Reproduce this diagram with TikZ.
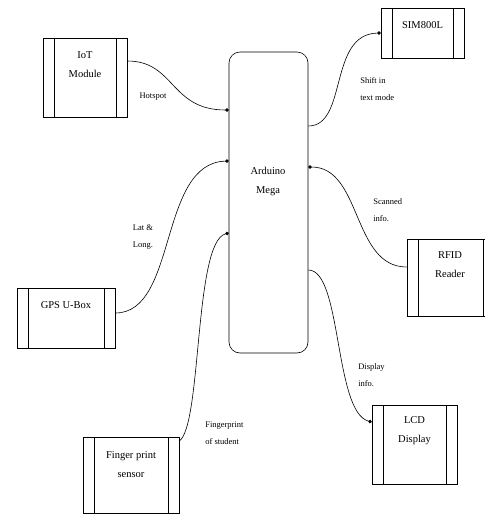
\documentclass[tikz,border=0pt]{standalone}
\usepackage{fontspec}
\setmainfont{Liberation Serif}
\usetikzlibrary{arrows.meta}
\begin{document}
\begin{tikzpicture}[x=1pt,y=-1pt,
  line width=0.6pt,
  subbox/.style={draw, rectangle, inner sep=0pt,
    path picture={
      \draw ([xshift=11pt]path picture bounding box.north west) -- ([xshift=11pt]path picture bounding box.south west);
      \draw ([xshift=-11pt]path picture bounding box.north east) -- ([xshift=-11pt]path picture bounding box.south east);
    }},
  boxtext/.style={align=center, font=\fontsize{10.5}{19}\selectfont, inner sep=0pt},
  lbl/.style={align=left, font=\fontsize{8.5}{16.5}\selectfont, inner sep=0pt},
  conn/.style={-{Circle[length=3.5pt]}}
]
\useasboundingbox (0,0) rectangle (485,515);
\clip (0,0) rectangle (485,515);

% main controller
\node[draw, rectangle, rounded corners=11pt, minimum width=79pt, minimum height=301pt, inner sep=0pt] (ard) at (268.5,202.5) {};
\node[boxtext] (ardT) at (268,181) {Arduino\\Mega};

% peripheral boxes
\node[subbox, minimum width=84pt, minimum height=79pt] (iot) at (85,77.5) {};
\node[boxtext] (iotT) at (85,65) {IoT\\Module};

\node[subbox, minimum width=83pt, minimum height=50pt] (sim) at (422.5,33) {};
\node[boxtext] (simT) at (422.5,25) {SIM800L};

\node[subbox, minimum width=98pt, minimum height=60pt] (gps) at (66,318) {};
\node[boxtext] (gpsT) at (66,305) {GPS U-Box};

\node[subbox, minimum width=87pt, minimum height=77pt] (rfid) at (450.5,277.5) {};
\node[boxtext] (rfidT) at (450,265) {RFID\\Reader};

\node[subbox, minimum width=85pt, minimum height=79pt] (lcd) at (414.5,444.5) {};
\node[boxtext] (lcdT) at (414.5,431) {LCD\\Display};

\node[subbox, minimum width=96pt, minimum height=76pt] (finger) at (131,475) {};
\node[boxtext] (fingerT) at (131,465) {Finger print\\sensor};

% connectors
\draw[conn] (iot.east |- 0,61) .. controls (175,61) and (170,110) .. (ard.west |- 0,110);
\node[lbl] (l1) at (153,97) {Hotspot};

\draw[conn] (gps.east |- 0,313) .. controls (178,313) and (158,163) .. (ard.west |- 0,161);
\node[lbl] (l2) at (143,237) {Lat \&\\Long.};

\draw[conn] (finger.east |- 0,441) .. controls (202,425) and (194,242) .. (ard.west |- 0,233);
\node[lbl, anchor=west] (l3) at (205,433) {Fingerprint\\of student};

\draw[conn] (ard.east |- 0,126) .. controls (348,126) and (328,34) .. (sim.west |- 0,33);
\node[lbl, anchor=west] (l4) at (360,89) {Shift in\\text mode};

\draw[conn] (rfid.west |- 0,267) .. controls (352,267) and (362,167) .. (ard.east |- 0,167);
\node[lbl, anchor=west] (l5) at (373,210) {Scanned\\info.};

\draw[conn] (ard.east |- 0,270) .. controls (342,270) and (334,412) .. (lcd.west |- 0,422);
\node[lbl, anchor=west] (l6) at (358,375) {Display\\info.};
\end{tikzpicture}
\end{document}
